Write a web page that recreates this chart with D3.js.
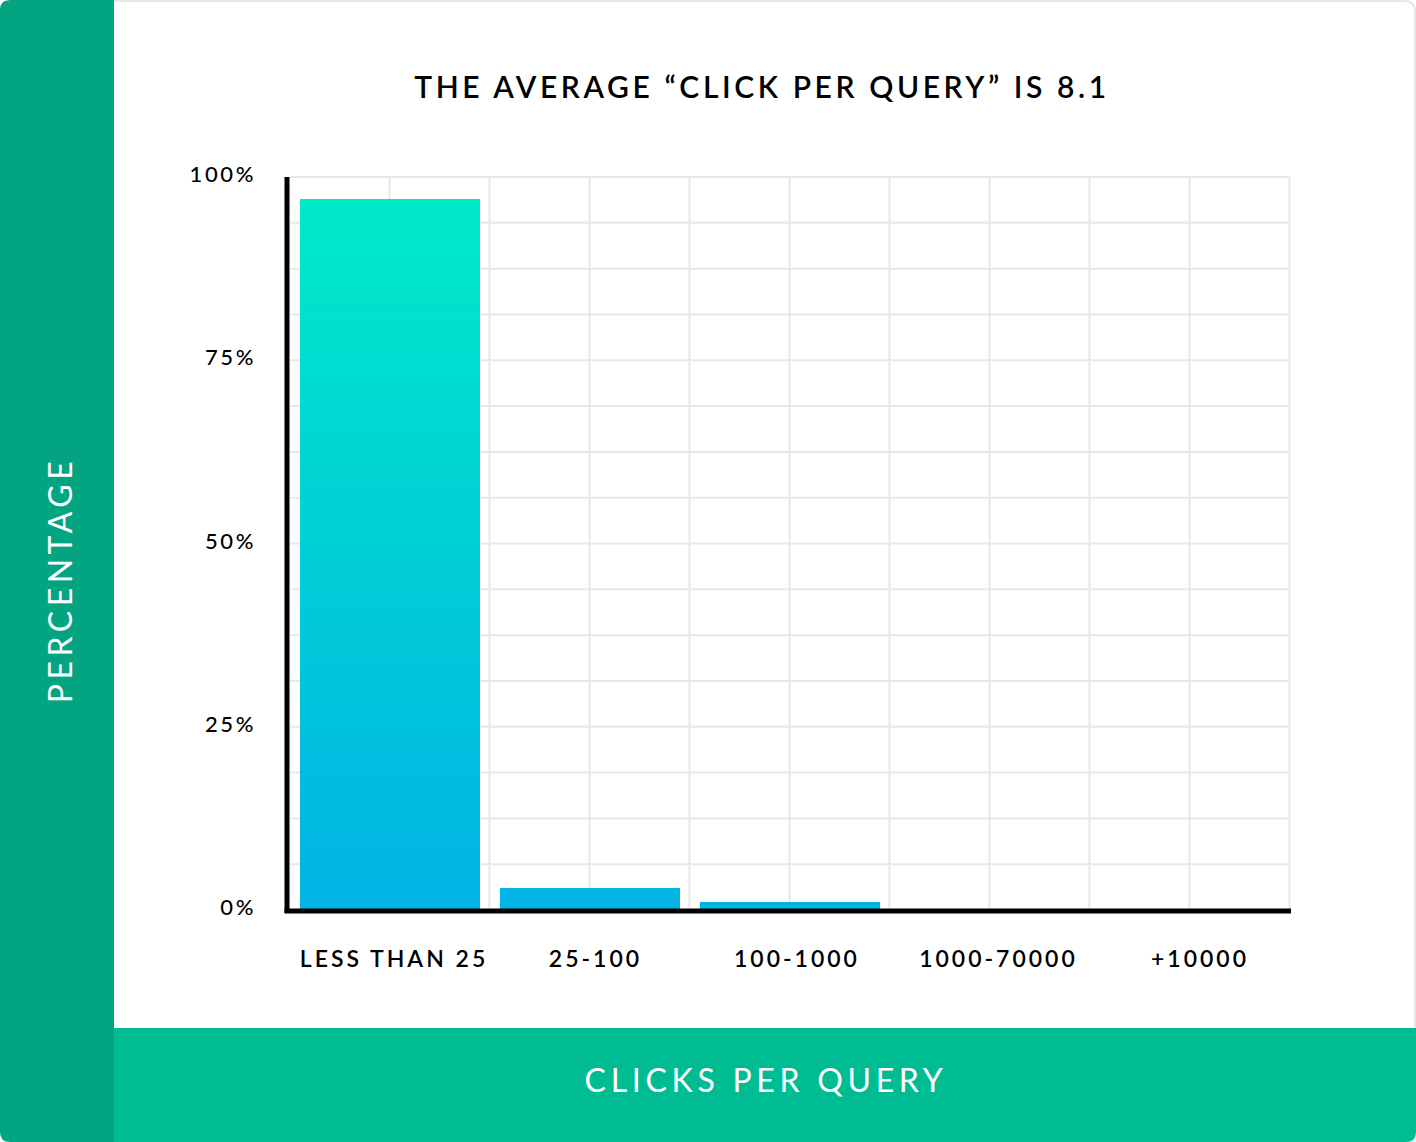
<!DOCTYPE html>
<html>
<head>
<meta charset="utf-8">
<script src="https://cdn.jsdelivr.net/npm/d3@7"></script>
<style>
  html, body { margin: 0; padding: 0; background: #ffffff; }
  svg { display: block; }
  text { font-family: "Lato", "Open Sans", sans-serif; }
</style>
</head>
<body>
<script>
const categories = ["LESS THAN 25", "25-100", "100-1000", "1000-70000", "+10000"];
const values = [97, 3, 1.1, 0, 0];
const yTicks = [0, 25, 50, 75, 100];
const titleText = "THE AVERAGE \u201CCLICK PER QUERY\u201D IS 8.1";
const yAxisTitle = "PERCENTAGE";
const xAxisTitle = "CLICKS PER QUERY";

const W = 1416, H = 1142;
const svg = d3.select("body").append("svg").attr("width", W).attr("height", H);

// card background with border
svg.append("path")
  .attr("d", `M110,1 H1404 Q1415,1 1415,12 V1138 H110 Z`)
  .attr("fill", "#ffffff").attr("stroke", "#e6e6e6").attr("stroke-width", 2);

// bottom band
svg.append("path")
  .attr("d", `M114,1028 H1416 V1132 Q1416,1142 1406,1142 H114 Z`)
  .attr("fill", "#00bc93");

// left panel
svg.append("path")
  .attr("d", `M10,0 H114 V1142 H10 Q0,1142 0,1132 V10 Q0,0 10,0 Z`)
  .attr("fill", "#02a482");

const x = d3.scaleBand().domain(categories).range([290, 1290]).paddingInner(0.1).paddingOuter(0.05);
const y = d3.scaleLinear().domain([0, 100]).range([910, 177]);

// gradient
const defs = svg.append("defs");
const grad = defs.append("linearGradient").attr("id", "barGrad")
  .attr("gradientUnits", "userSpaceOnUse")
  .attr("x1", 0).attr("x2", 0).attr("y1", y(100)).attr("y2", y(0));
grad.append("stop").attr("offset", "0%").attr("stop-color", "#00ebc8");
grad.append("stop").attr("offset", "100%").attr("stop-color", "#00b3e5");

// grid
const g = svg.append("g");
const hGrid = d3.range(0, 100.001, 6.25);
g.selectAll("line.h").data(hGrid).enter().append("line")
  .attr("x1", 290).attr("x2", 1290)
  .attr("y1", d => y(d)).attr("y2", d => y(d))
  .attr("stroke", "#e8e8e8").attr("stroke-width", 2);
const step = x.step();
const vGrid = d3.range(1, categories.length * 2 + 1).map(k => x.range()[0] + k * step / 2 - 0.5);
g.selectAll("line.v").data(vGrid).enter().append("line")
  .attr("x1", d => d).attr("x2", d => d)
  .attr("y1", y(100)).attr("y2", y(0))
  .attr("stroke", "#e8e8e8").attr("stroke-width", 2);

// bars
svg.selectAll("rect.bar").data(values).enter().append("rect")
  .attr("x", (d, i) => x(categories[i]))
  .attr("width", x.bandwidth())
  .attr("y", d => y(d))
  .attr("height", d => y(0) - y(d))
  .attr("fill", "url(#barGrad)");

// axes lines
svg.append("line").attr("x1", 287).attr("x2", 287).attr("y1", y(100)).attr("y2", y(0) + 3)
  .attr("stroke", "#000").attr("stroke-width", 5);
svg.append("line").attr("x1", 284.5).attr("x2", 1291).attr("y1", y(0) + 1).attr("y2", y(0) + 1)
  .attr("stroke", "#000").attr("stroke-width", 5);

// y tick labels
svg.selectAll("text.yt").data(yTicks).enter().append("text")
  .attr("x", 256).attr("y", d => y(d) + 5)
  .attr("text-anchor", "end")
  .attr("font-size", 22).attr("font-weight", 500).attr("letter-spacing", 2.6).attr("fill", "#000")
  .text(d => d + "%");

// x tick labels
svg.selectAll("text.xt").data(categories).enter().append("text")
  .attr("x", (d, i) => x(d) + x.bandwidth() / 2 + 4 + i * 1.5)
  .attr("y", 967)
  .attr("text-anchor", "middle")
  .attr("font-size", 23).attr("font-weight", 600).attr("letter-spacing", 3).attr("fill", "#000")
  .text(d => d);

// title
svg.append("text").attr("x", 762).attr("y", 98)
  .attr("text-anchor", "middle")
  .attr("font-size", 30).attr("font-weight", 600).attr("letter-spacing", 3.6).attr("fill", "#000")
  .text(titleText);

// y axis title
svg.append("text")
  .attr("transform", "translate(72,580) rotate(-90)")
  .attr("text-anchor", "middle")
  .attr("font-size", 32).attr("letter-spacing", 4.5).attr("fill", "#fff")
  .text(yAxisTitle);

// x axis title
svg.append("text").attr("x", 766).attr("y", 1092)
  .attr("text-anchor", "middle")
  .attr("font-size", 32).attr("letter-spacing", 4.7).attr("fill", "#fff")
  .text(xAxisTitle);
</script>
</body>
</html>
